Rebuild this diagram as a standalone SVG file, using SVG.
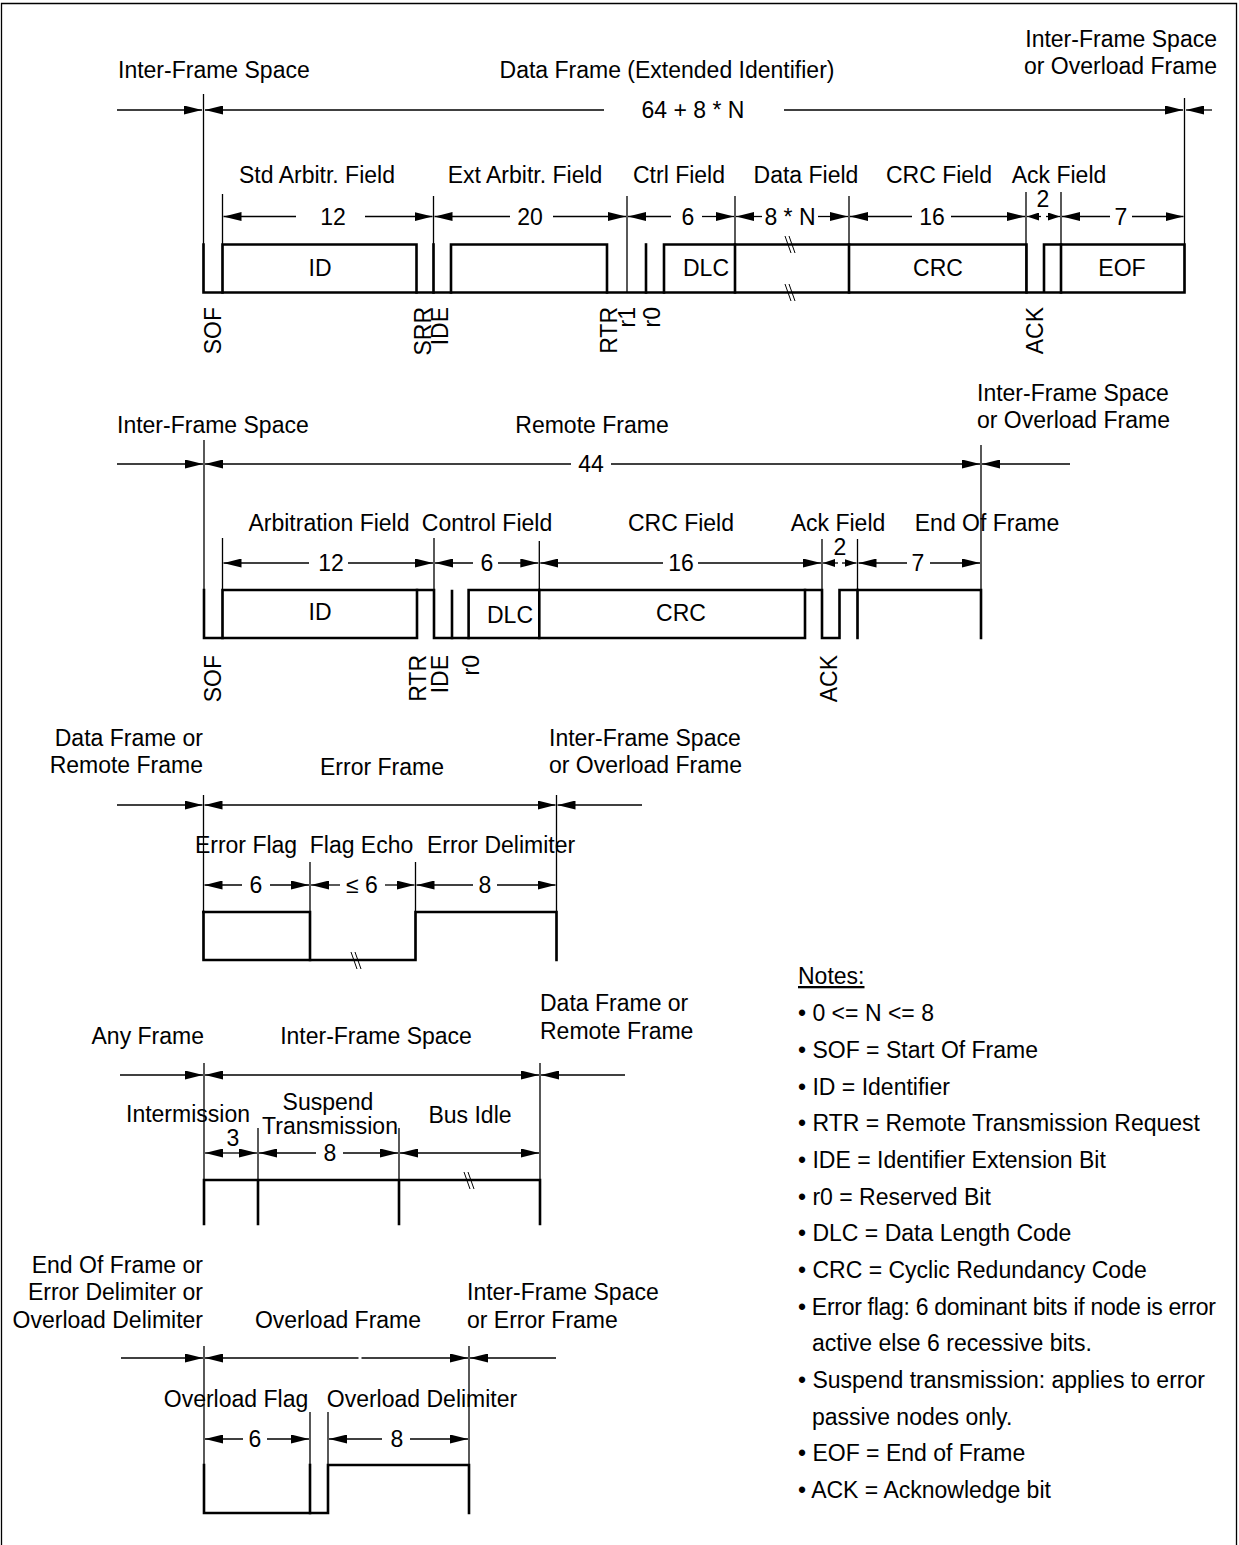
<svg xmlns="http://www.w3.org/2000/svg" width="1239" height="1545" viewBox="0 0 1239 1545">
<defs>
<style>
.t{font-family:"Liberation Sans",Arial,Helvetica,sans-serif;font-size:23px;fill:#000}
.m{text-anchor:middle}
.e{text-anchor:end}
.thin{stroke:#000;stroke-width:1.3;fill:none}
.sig{stroke:#000;stroke-width:2.6;fill:none;stroke-linecap:square}
.a{stroke:#000;stroke-width:1.3;fill:none;marker-end:url(#ah)}
.as{stroke:#000;stroke-width:1.3;fill:none;marker-end:url(#ahs)}
.brk{stroke:#000;stroke-width:1;fill:none}
</style>
<marker id="ah" markerUnits="userSpaceOnUse" viewBox="0 0 18 9" markerWidth="18" markerHeight="9" refX="18" refY="4.5" orient="auto"><path d="M0,0 L18,4.5 L0,9 z" fill="#000"/></marker>
<marker id="ahs" markerUnits="userSpaceOnUse" viewBox="0 0 12 8" markerWidth="12" markerHeight="8" refX="12" refY="4" orient="auto"><path d="M0,0 L12,4 L0,8 z" fill="#000"/></marker>
</defs>
<rect width="1239" height="1545" fill="#fff"/>
<path class="thin" d="M1.5,1545 V3.5 H1236.5 V1545" stroke-width="1.5"/>

<g id="data-frame">
<text class="t" x="118" y="78">Inter-Frame Space</text>
<text class="t m" x="667" y="78">Data Frame (Extended Identifier)</text>
<text class="t e" x="1217" y="47">Inter-Frame Space</text>
<text class="t e" x="1217" y="74">or Overload Frame</text>
<text class="t m" x="693" y="118">64 + 8 * N</text>
<text class="t m" x="317" y="183">Std Arbitr. Field</text>
<text class="t m" x="525" y="183">Ext Arbitr. Field</text>
<text class="t m" x="679" y="183">Ctrl Field</text>
<text class="t m" x="806" y="183">Data Field</text>
<text class="t m" x="939" y="183">CRC Field</text>
<text class="t m" x="1059" y="183">Ack Field</text>
<text class="t m" x="333" y="225">12</text>
<text class="t m" x="530" y="225">20</text>
<text class="t m" x="688" y="225">6</text>
<text class="t m" x="790" y="225">8 * N</text>
<text class="t m" x="932" y="225">16</text>
<text class="t m" x="1043" y="207">2</text>
<text class="t m" x="1121" y="225">7</text>
<text class="t m" x="320" y="276">ID</text>
<text class="t m" x="706" y="276">DLC</text>
<text class="t m" x="938" y="276">CRC</text>
<text class="t m" x="1122" y="276">EOF</text>
<text class="t e" transform="translate(221,307) rotate(-90)">SOF</text>
<text class="t e" transform="translate(431,307) rotate(-90)">SRR</text>
<text class="t e" transform="translate(448,307) rotate(-90)">IDE</text>
<text class="t e" transform="translate(617,307) rotate(-90)">RTR</text>
<text class="t e" transform="translate(635,307) rotate(-90)">r1</text>
<text class="t e" transform="translate(660,307) rotate(-90)">r0</text>
<text class="t e" transform="translate(1043,307) rotate(-90)">ACK</text>
<path class="sig" d="M203.5,244.5 V292.5 H1184.5 V244.5 H1044 V292.5"/>
<path class="sig" d="M222.5,292.5 V244.5 H416.5 V292.5"/>
<path class="sig" d="M433.5,244.5 V292.5"/>
<path class="sig" d="M451,292.5 V244.5 H607 V292.5"/>
<path class="sig" d="M646,244.5 V292.5"/>
<path class="sig" d="M664,292.5 V244.5 H1026.5 V292.5"/>
<path class="sig" d="M735,244.5 V292.5 M849,244.5 V292.5 M1061,244.5 V292.5"/>
<path class="brk" d="M785,236 L791,253 M789,236 L795,253 M785,284 L791,301 M789,284 L795,301"/>
</g>

<g id="remote-frame">
<text class="t" x="117" y="433">Inter-Frame Space</text>
<text class="t m" x="592" y="433">Remote Frame</text>
<text class="t" x="977" y="401">Inter-Frame Space</text>
<text class="t" x="977" y="428">or Overload Frame</text>
<text class="t m" x="591" y="472">44</text>
<text class="t m" x="329" y="531">Arbitration Field</text>
<text class="t m" x="487" y="531">Control Field</text>
<text class="t m" x="681" y="531">CRC Field</text>
<text class="t m" x="838" y="531">Ack Field</text>
<text class="t m" x="987" y="531">End Of Frame</text>
<text class="t m" x="331" y="571">12</text>
<text class="t m" x="487" y="571">6</text>
<text class="t m" x="681" y="571">16</text>
<text class="t m" x="840" y="555">2</text>
<text class="t m" x="918" y="571">7</text>
<text class="t m" x="320" y="620">ID</text>
<text class="t m" x="510" y="623">DLC</text>
<text class="t m" x="681" y="621">CRC</text>
<text class="t e" transform="translate(221,655) rotate(-90)">SOF</text>
<text class="t e" transform="translate(426,655) rotate(-90)">RTR</text>
<text class="t e" transform="translate(448,655) rotate(-90)">IDE</text>
<text class="t e" transform="translate(479,655) rotate(-90)">r0</text>
<text class="t e" transform="translate(837,655) rotate(-90)">ACK</text>
<path class="sig" d="M204,590 V638 H417 V590"/>
<path class="sig" d="M222.5,638 V590 H434 V638 H805 V590"/>
<path class="sig" d="M468.6,638 V590 H822 V638 H839.5 V590 H981 V638"/>
<path class="sig" d="M452,591 V638 M539.3,590 V638 M857.5,590 V638"/>
</g>

<g id="error-frame">
<text class="t e" x="203" y="746">Data Frame or</text>
<text class="t e" x="203" y="773">Remote Frame</text>
<text class="t m" x="382" y="775">Error Frame</text>
<text class="t" x="549" y="746">Inter-Frame Space</text>
<text class="t" x="549" y="773">or Overload Frame</text>
<text class="t m" x="246" y="853">Error Flag</text>
<text class="t m" x="361.5" y="853">Flag Echo</text>
<text class="t m" x="501" y="853">Error Delimiter</text>
<text class="t m" x="256" y="893">6</text>
<text class="t m" x="362" y="893">≤ 6</text>
<text class="t m" x="485" y="893">8</text>
<path class="sig" d="M203.5,912 V960 H415.5 V912 H556.5 V960"/>
<path class="sig" d="M203.5,912 H310 V960"/>
<path class="brk" d="M351,952 L357,969 M355,952 L361,969"/>
</g>

<g id="inter-frame-space">
<text class="t e" x="204" y="1044">Any Frame</text>
<text class="t m" x="376" y="1044">Inter-Frame Space</text>
<text class="t" x="540" y="1011">Data Frame or</text>
<text class="t" x="540" y="1039">Remote Frame</text>
<text class="t m" x="188" y="1122">Intermission</text>
<text class="t m" x="328" y="1110">Suspend</text>
<text class="t m" x="330" y="1134">Transmission</text>
<text class="t m" x="470" y="1123">Bus Idle</text>
<text class="t m" x="233" y="1146">3</text>
<text class="t m" x="330" y="1161">8</text>
<path class="sig" d="M204,1224 V1180 H540 V1224 M258,1180 V1224 M399,1180 V1224"/>
<path class="brk" d="M464,1172 L470,1189 M468,1172 L474,1189"/>
</g>

<g id="overload-frame">
<text class="t e" x="203" y="1273">End Of Frame or</text>
<text class="t e" x="203" y="1300">Error Delimiter or</text>
<text class="t e" x="203" y="1328">Overload Delimiter</text>
<text class="t m" x="338" y="1328">Overload Frame</text>
<text class="t" x="467" y="1300">Inter-Frame Space</text>
<text class="t" x="467" y="1328">or Error Frame</text>
<text class="t m" x="236" y="1407">Overload Flag</text>
<text class="t m" x="422" y="1407">Overload Delimiter</text>
<text class="t m" x="255" y="1447">6</text>
<text class="t m" x="397" y="1447">8</text>
<path class="sig" d="M204,1465 V1513 H328 V1465 H469 V1513"/>
<path class="sig" d="M310,1465 V1513"/>
</g>

<g id="notes">
<text class="t" x="798" y="984" text-decoration="underline">Notes:</text>
<text class="t" x="798" y="1021">• 0 &lt;= N &lt;= 8</text>
<text class="t" x="798" y="1058">• SOF = Start Of Frame</text>
<text class="t" x="798" y="1094.5">• ID = Identifier</text>
<text class="t" x="798" y="1131">• RTR = Remote Transmission Request</text>
<text class="t" x="798" y="1168">• IDE = Identifier Extension Bit</text>
<text class="t" x="798" y="1204.5">• r0 = Reserved Bit</text>
<text class="t" x="798" y="1241">• DLC = Data Length Code</text>
<text class="t" x="798" y="1278">• CRC = Cyclic Redundancy Code</text>
<text class="t" x="798" y="1314.5" textLength="418" lengthAdjust="spacing">• Error flag: 6 dominant bits if node is error</text>
<text class="t" x="812" y="1351">active else 6 recessive bits.</text>
<text class="t" x="798" y="1388">• Suspend transmission: applies to error</text>
<text class="t" x="812" y="1424.5">passive nodes only.</text>
<text class="t" x="798" y="1461">• EOF = End of Frame</text>
<text class="t" x="798" y="1498">• ACK = Acknowledge bit</text>
</g>

<g id="connectors">
<path class="thin" d="M203.5,94 V292.5 M1184.5,98 V292.5 M222.5,194 V292.5 M433.5,196 V292.5 M627,196 V292.5 M735,196 V292.5 M849,196 V292.5 M1026,192 V292.5 M1061,192 V292.5"/>
<line class="a" x1="117" y1="110" x2="202" y2="110"/>
<line class="a" x1="604" y1="110" x2="205" y2="110"/>
<line class="a" x1="784" y1="110" x2="1183" y2="110"/>
<line class="a" x1="1212" y1="110" x2="1186" y2="110"/>
<line class="a" x1="296" y1="216.5" x2="223.5" y2="216.5"/>
<line class="a" x1="365" y1="216.5" x2="432.5" y2="216.5"/>
<line class="a" x1="510" y1="216.5" x2="434.5" y2="216.5"/>
<line class="a" x1="553" y1="216.5" x2="626" y2="216.5"/>
<line class="a" x1="671" y1="216.5" x2="628" y2="216.5"/>
<line class="a" x1="702" y1="216.5" x2="734" y2="216.5"/>
<line class="a" x1="762" y1="216.5" x2="736" y2="216.5"/>
<line class="a" x1="818" y1="216.5" x2="848" y2="216.5"/>
<line class="a" x1="912" y1="216.5" x2="850" y2="216.5"/>
<line class="a" x1="951" y1="216.5" x2="1025" y2="216.5"/>
<line class="as" x1="1041" y1="216.5" x2="1027" y2="216.5"/>
<line class="as" x1="1046" y1="216.5" x2="1060" y2="216.5"/>
<line class="a" x1="1110" y1="216.5" x2="1062" y2="216.5"/>
<line class="a" x1="1132" y1="216.5" x2="1183.5" y2="216.5"/>
<path class="thin" d="M204,440 V638 M981,445 V638 M222.5,538 V638 M434,538 V638 M539.3,541 V638 M822,539 V638 M857.5,539 V638"/>
<line class="a" x1="117" y1="464" x2="203" y2="464"/>
<line class="a" x1="571" y1="464" x2="205" y2="464"/>
<line class="a" x1="611" y1="464" x2="980" y2="464"/>
<line class="a" x1="1070" y1="464" x2="982" y2="464"/>
<line class="a" x1="309" y1="563" x2="223.5" y2="563"/>
<line class="a" x1="348" y1="563" x2="433" y2="563"/>
<line class="a" x1="473" y1="563" x2="435" y2="563"/>
<line class="a" x1="498" y1="563" x2="538.3" y2="563"/>
<line class="a" x1="663" y1="563" x2="540.3" y2="563"/>
<line class="a" x1="698" y1="563" x2="821" y2="563"/>
<line class="as" x1="838" y1="563" x2="823" y2="563"/>
<line class="as" x1="842" y1="563" x2="856.5" y2="563"/>
<line class="a" x1="907" y1="563" x2="858.5" y2="563"/>
<line class="a" x1="930" y1="563" x2="980" y2="563"/>
<path class="thin" d="M203.5,795 V960 M556.5,795 V960 M310,862 V960 M415.5,862 V960"/>
<line class="a" x1="117" y1="805" x2="202.5" y2="805"/>
<line class="a" x1="380" y1="805" x2="204.5" y2="805"/>
<line class="a" x1="380" y1="805" x2="555.5" y2="805"/>
<line class="a" x1="642" y1="805" x2="557.5" y2="805"/>
<line class="a" x1="242" y1="885" x2="204.5" y2="885"/>
<line class="a" x1="270" y1="885" x2="309" y2="885"/>
<line class="a" x1="340" y1="885" x2="311" y2="885"/>
<line class="a" x1="385" y1="885" x2="414.5" y2="885"/>
<line class="a" x1="473" y1="885" x2="416.5" y2="885"/>
<line class="a" x1="497" y1="885" x2="555.5" y2="885"/>
<path class="thin" d="M204,1063 V1224 M540,1063 V1224 M258,1128 V1224 M399,1128 V1224"/>
<line class="a" x1="120" y1="1075" x2="203" y2="1075"/>
<line class="a" x1="370" y1="1075" x2="205" y2="1075"/>
<line class="a" x1="370" y1="1075" x2="539" y2="1075"/>
<line class="a" x1="625" y1="1075" x2="541" y2="1075"/>
<line class="a" x1="231" y1="1153" x2="205" y2="1153"/>
<line class="a" x1="231" y1="1153" x2="257" y2="1153"/>
<line class="a" x1="316" y1="1153" x2="259" y2="1153"/>
<line class="a" x1="343" y1="1153" x2="398" y2="1153"/>
<line class="a" x1="470" y1="1153" x2="400" y2="1153"/>
<line class="a" x1="470" y1="1153" x2="539" y2="1153"/>
<path class="thin" d="M204,1346 V1513 M469,1346 V1513 M310,1412 V1513 M328,1412 V1513"/>
<line class="a" x1="121" y1="1358" x2="203" y2="1358"/>
<line class="a" x1="358.5" y1="1358" x2="205" y2="1358"/>
<line class="a" x1="361.5" y1="1358" x2="468" y2="1358"/>
<line class="a" x1="556" y1="1358" x2="470" y2="1358"/>
<line class="a" x1="243" y1="1439" x2="205" y2="1439"/>
<line class="a" x1="267" y1="1439" x2="309" y2="1439"/>
<line class="a" x1="382" y1="1439" x2="329" y2="1439"/>
<line class="a" x1="410" y1="1439" x2="468" y2="1439"/>
</g>
</svg>
